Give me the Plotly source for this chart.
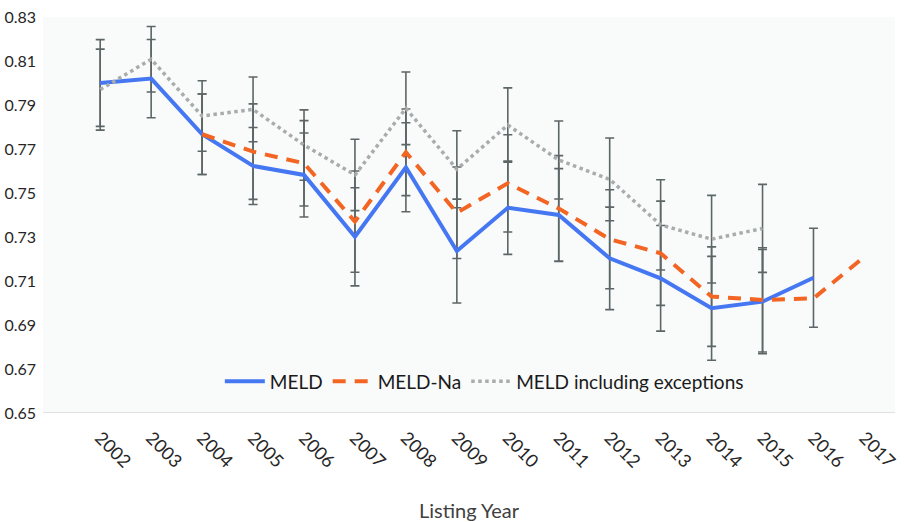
import plotly.graph_objects as go

years = ["2002", "2003", "2004", "2005", "2006", "2007", "2008", "2009",
         "2010", "2011", "2012", "2013", "2014", "2015", "2016", "2017"]

meld = [0.800, 0.802, 0.7767, 0.7623, 0.7582, 0.7301, 0.7617, 0.7236,
        0.7433, 0.7400, 0.7203, 0.7112, 0.6976, 0.7006, 0.7115, None]
meld_err = [0.0197, 0.0178, 0.0183, 0.0175, 0.0191, 0.0223, 0.0202, 0.0236,
            0.0212, 0.0211, 0.0233, 0.0240, 0.0236, 0.0237, 0.0225, None]

meld_na = [None, None, 0.7767, 0.7688, 0.7635, 0.7370, 0.7685, 0.7410,
           0.7544, 0.7430, 0.7290, 0.7226, 0.7029, 0.7014, 0.7021, 0.7210]
meld_na_err = [None, None, 0.0183, 0.0217, 0.0194, 0.0230, 0.0197, 0.0208,
               0.0221, 0.0240, 0.0225, 0.0237, 0.0226, 0.0237, None, None]

meld_exc = [0.7970, 0.8108, 0.7850, 0.7880, 0.7718, 0.7582, 0.7885, 0.7608,
            0.7809, 0.7650, 0.7562, 0.7355, 0.7290, 0.7339, None, None]
meld_exc_err = [0.0184, 0.0149, 0.0160, 0.0147, 0.0160, 0.0162, 0.0165, 0.0175,
                0.0169, 0.0177, 0.0188, 0.0205, 0.0199, 0.0200, None, None]

y_ticks = [0.65, 0.67, 0.69, 0.71, 0.73, 0.75, 0.77, 0.79, 0.81, 0.83]

series = [
    ("MELD", meld, meld_err, dict(color="#4677f2", width=4, dash="solid")),
    ("MELD-Na", meld_na, meld_na_err, dict(color="#f26522", width=4, dash="13px,9px")),
    ("MELD including exceptions", meld_exc, meld_exc_err,
     dict(color="#a8acab", width=3.5, dash="3.5px,3.5px")),
]

fig = go.Figure()

# error bars (drawn beneath the lines)
for name, vals, errs, _ in series:
    xs = [x for x, v, e in zip(years, vals, errs) if v is not None and e is not None]
    ys = [v for v, e in zip(vals, errs) if v is not None and e is not None]
    es = [e for v, e in zip(vals, errs) if v is not None and e is not None]
    fig.add_trace(go.Scatter(
        x=xs, y=ys, mode="markers", marker=dict(size=1, opacity=0),
        error_y=dict(type="data", array=es, visible=True, color="#5d6666",
                     thickness=1.6, width=4.5),
        showlegend=False, hoverinfo="skip"))

for name, vals, errs, line in series:
    fig.add_trace(go.Scatter(
        x=years, y=vals, mode="lines", name=name, line=line,
        connectgaps=False))

fig.update_layout(
    width=904, height=522,
    margin=dict(l=43, r=9, t=17, b=109),
    paper_bgcolor="white",
    plot_bgcolor="#f9fbfb",
    font=dict(family="Lato", size=16, color="#262626"),
    showlegend=True,
    legend=dict(orientation="h", x=0.518, xanchor="center", y=0.08, yanchor="middle",
                bgcolor="rgba(0,0,0,0)", font=dict(size=19, color="#1a1a1a"),
                itemwidth=40, traceorder="normal"),
    xaxis=dict(type="category", range=[-1.123, 15.6], tickangle=45,
               automargin=False,
               showgrid=False, zeroline=False, showline=False, ticks="",
               ticklabelstandoff=10,
               tickfont=dict(size=18, color="#262626"),
               title=dict(text="Listing Year", font=dict(size=20, color="#404040"), standoff=34)),
    yaxis=dict(range=[0.65, 0.83], tickvals=y_ticks, tickformat=".2f",
               automargin=False,
               showgrid=False, zeroline=False, showline=False, ticks="",
               ticklabelstandoff=6,
               tickfont=dict(size=16, color="#262626")),
    shapes=[dict(type="line", xref="paper", yref="y", x0=0, x1=1, y0=0.65, y1=0.65,
                 line=dict(color="#d9d9d9", width=1.5))],
)

fig.write_html("out.html", config={"displayModeBar": False},
               post_script="document.body.style.margin='0';document.body.style.overflow='hidden';")
